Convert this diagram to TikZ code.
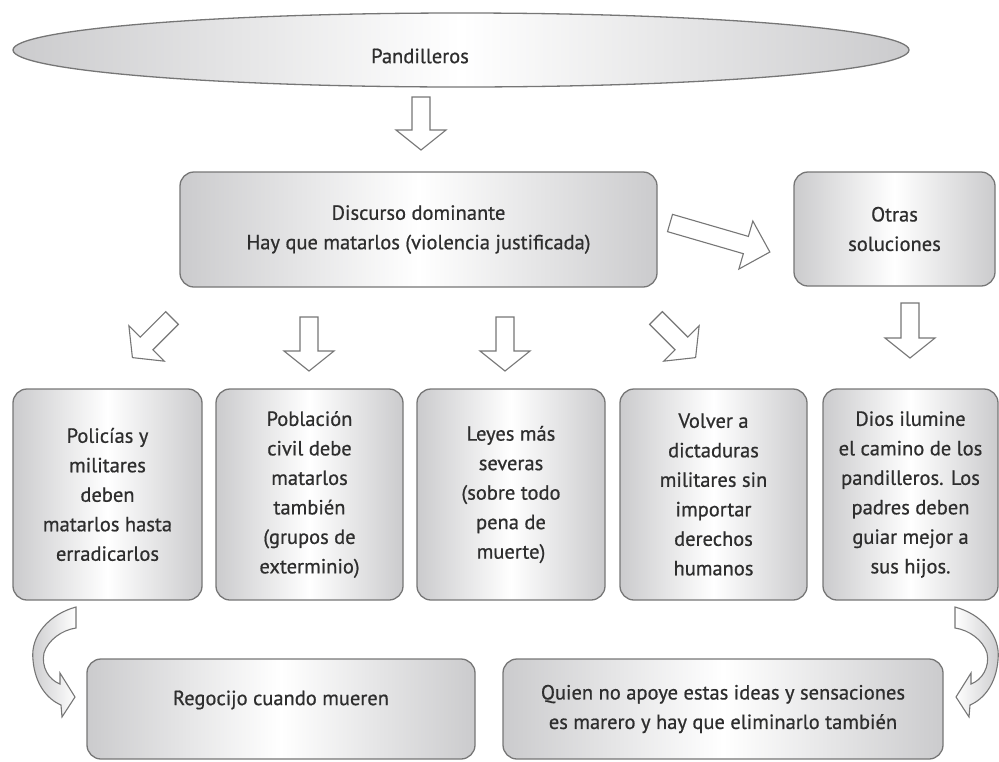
\documentclass[tikz,border=0pt]{standalone}
\usepackage{fontspec}
\setmainfont{PT Sans}[FakeBold=0.7]
\usetikzlibrary{shapes.geometric}
\definecolor{bordergray}{HTML}{767676}
\definecolor{shadegray}{HTML}{CBCBCD}
\definecolor{txtgray}{HTML}{2E2E2E}
\tikzset{
 box/.style={draw=bordergray, line width=1.3pt, rounded corners=14pt, left color=shadegray, right color=shadegray, middle color=white, anchor=north west, inner sep=0pt, outer sep=0pt, align=center, text=txtgray, font=\fontsize{20.5}{29.5}\selectfont},
 txt/.style={text=txtgray, align=center, font=\fontsize{20.5}{29.5}\selectfont, inner sep=0pt},
 barrow/.style={draw=bordergray, line width=1.1pt, fill=white, line join=miter},
 carrowL/.style={draw=bordergray, line width=1.1pt, left color=shadegray, right color=white},
 carrowR/.style={draw=bordergray, line width=1.1pt, left color=white, right color=shadegray},
}
\newcommand\blockarrow[5]{%
 \begin{scope}[shift={(#1,#2)}, rotate=#3]
 \draw[barrow] (0,-9) -- (#4-#5,-9) -- (#4-#5,-25) -- (#4,0) -- (#4-#5,25) -- (#4-#5,9) -- (0,9) -- cycle;
 \end{scope}}
\begin{document}
\begin{tikzpicture}[x=1pt,y=-1pt]
\useasboundingbox (0,0) rectangle (999,761);
% top ellipse
\node[draw=bordergray, line width=1.3pt, ellipse, minimum width=896pt, minimum height=74pt, left color=shadegray, right color=shadegray, middle color=white, inner sep=0pt] (pand) at (461,50) {};
\node[txt] (pandt) at (420,56) {Pandilleros};
% boxes
\node[box, minimum width=477pt, minimum height=115pt] (disc) at (180,172) {Discurso dominante\\Hay que matarlos (violencia justificada)};
\node[box, minimum width=201pt, minimum height=114pt] (otras) at (794,172) {Otras\\soluciones};
\node[box, minimum width=189pt, minimum height=211pt] (b1) at (13,389) {Policías y\\militares\\deben\\matarlos hasta\\erradicarlos};
\node[box, minimum width=187pt, minimum height=211pt] (b2) at (216,389) {Población\\civil debe\\matarlos\\también\\(grupos de\\exterminio)};
\node[box, minimum width=188pt, minimum height=211pt] (b3) at (417,389) {Leyes más\\severas\\(sobre todo\\pena de\\muerte)};
\node[box, minimum width=187pt, minimum height=211pt] (b4) at (620,389) {Volver a\\dictaduras\\militares sin\\importar\\derechos\\humanos};
\node[box, minimum width=175pt, minimum height=211pt] (b5) at (823,389) {Dios ilumine\\el camino de los\\pandilleros. Los\\padres deben\\guiar mejor a\\sus hijos.};
\node[box, minimum width=388pt, minimum height=100pt] (reg) at (87,659) {};
\node[txt] (regt) at (281,700) {Regocijo cuando mueren};
\node[box, minimum width=440pt, minimum height=100pt] (quien) at (503,659) {Quien no apoye estas ideas y sensaciones\\es marero y hay que eliminarlo también};
% block arrows
\blockarrow{421}{97}{-90}{53}{20}
\blockarrow{670}{223}{-16.2}{104}{25}
\blockarrow{172}{318}{-135}{56}{20}
\blockarrow{309}{317}{-90}{54}{20}
\blockarrow{505}{317}{-90}{54}{20}
\blockarrow{656}{318}{-45}{56}{20}
\blockarrow{910}{303}{-90}{55}{20}
% curved arrows
\draw[carrowL] (76,607) .. controls (50,614) and (30,635) .. (33,660) .. controls (35,684) and (47,699) .. (61,705) -- (62,717) -- (75,697) -- (60,673) -- (60,684) .. controls (49,680) and (41,667) .. (44,653) .. controls (48,640) and (62,630) .. (76,628) -- cycle;
\draw[carrowR] (955,607) .. controls (981,614) and (1001,635) .. (998,660) .. controls (996,684) and (984,699) .. (970,705) -- (969,717) -- (956,697) -- (971,673) -- (971,684) .. controls (982,680) and (990,667) .. (987,653) .. controls (983,640) and (969,630) .. (955,628) -- cycle;
\end{tikzpicture}
\end{document}
